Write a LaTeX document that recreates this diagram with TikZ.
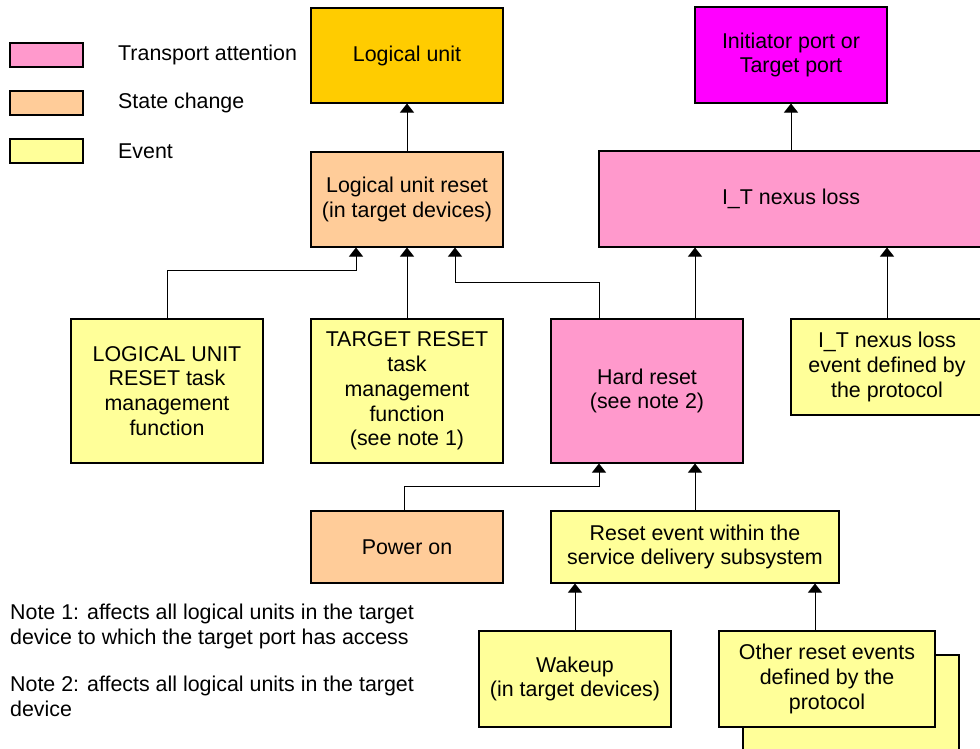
\documentclass[tikz,border=0pt]{standalone}
\usepackage{fontspec}
\setmainfont{Liberation Sans}
\usetikzlibrary{arrows.meta}
\definecolor{cpink}{HTML}{FF99CC}
\definecolor{corange}{HTML}{FFCC99}
\definecolor{cyellow}{HTML}{FFFF99}
\definecolor{cgold}{HTML}{FFCC00}
\definecolor{cmagenta}{HTML}{FF00FF}
\begin{document}
\begin{tikzpicture}[x=1pt,y=-1pt,
  every node/.style={font=\fontsize{21.4}{24.8}\selectfont, inner sep=0pt},
  box/.style={draw=black, line width=1.1pt, align=center, minimum width=192pt, minimum height=96pt},
  leg/.style={draw=black, line width=1.1pt, minimum width=73pt, minimum height=24pt},
  legtxt/.style={anchor=west},
  arr/.style={draw=black, line width=1pt, -{Triangle[width=14pt,length=9pt]}},
  note/.style={anchor=north west, align=left}]
\useasboundingbox (0,0) rectangle (980,749);
% notes
\node[note] (n1) at (10,604) {Note 1: affects all logical units in the target\\device to which the target port has access};
\node[note] (n2) at (10,676) {Note 2: affects all logical units in the target\\device};
% legend
\node[leg, fill=cpink] (l1) at (46.5,55) {};
\node[legtxt] (t1) at (118,55) {Transport attention};
\node[leg, fill=corange] (l2) at (46.5,103) {};
\node[legtxt] (t2) at (118,103) {State change};
\node[leg, fill=cyellow] (l3) at (46.5,151) {};
\node[legtxt] (t3) at (118,151) {Event};
% boxes
\node[box, fill=cgold, minimum height=95pt] (lu) at (407,55.5) {Logical unit};
\node[box, fill=cmagenta] (ip) at (791,55) {Initiator port or\\Target port};
\node[box, fill=corange, minimum height=95pt] (lur) at (407,199.5) {Logical unit reset\\(in target devices)};
\node[box, fill=cpink, minimum width=384pt] (itn) at (791,199) {I\_T nexus loss};
\node[box, fill=cyellow, minimum height=144pt] (lurf) at (167,391) {LOGICAL UNIT\\RESET task\\management\\function};
\node[box, fill=cyellow, minimum height=144pt] (trf) at (407,391) {TARGET RESET\\task\\management\\function\\(see note 1)};
\node[box, fill=cpink, minimum height=144pt] (hr) at (647,391) {Hard reset\\(see note 2)};
\node[box, fill=cyellow] (itne) at (887,367) {I\_T nexus loss\\event defined by\\the protocol};
\node[box, fill=corange, minimum height=72pt] (pon) at (407,547) {Power on};
\node[box, fill=cyellow, minimum width=288pt, minimum height=72pt] (rev) at (695,547) {Reset event within the\\service delivery subsystem};
\node[box, fill=cyellow] (wk) at (575,679) {Wakeup\\(in target devices)};
\node[box, fill=cyellow, minimum width=216pt] (oreb) at (851,703) {};
\node[box, fill=cyellow, minimum width=216pt] (ore) at (827,679) {Other reset events\\defined by the\\protocol};
% helper coordinates
\coordinate (lurL) at ([xshift=-51pt]lur.south);
\coordinate (lurR) at ([xshift=48pt]lur.south);
\coordinate (hrNL) at ([xshift=-48pt]hr.north);
\coordinate (hrNR) at ([xshift=48pt]hr.north);
\coordinate (hrSL) at ([xshift=-48pt]hr.south);
\coordinate (oreN) at ([xshift=-12pt]ore.north);
% connectors
\draw[arr] (lur.north) -- (lu.south);
\draw[arr] (itn.north) -- (ip.south);
\draw[arr] (lurf.north) -- ++(0,-48) -| (lurL);
\draw[arr] (trf.north) -- (lur.south);
\draw[arr] (hrNL) -- ++(0,-36) -| (lurR);
\draw[arr] (hrNR) -- (hrNR |- itn.south);
\draw[arr] (itne.north) -- (itne.north |- itn.south);
\draw[arr] ([xshift=-3pt]pon.north) -- ++(0,-24) -| (hrSL);
\draw[arr] (rev.north) -- (rev.north |- hr.south);
\draw[arr] (wk.north) -- (wk.north |- rev.south);
\draw[arr] (oreN) -- (oreN |- rev.south);
\end{tikzpicture}
\end{document}
